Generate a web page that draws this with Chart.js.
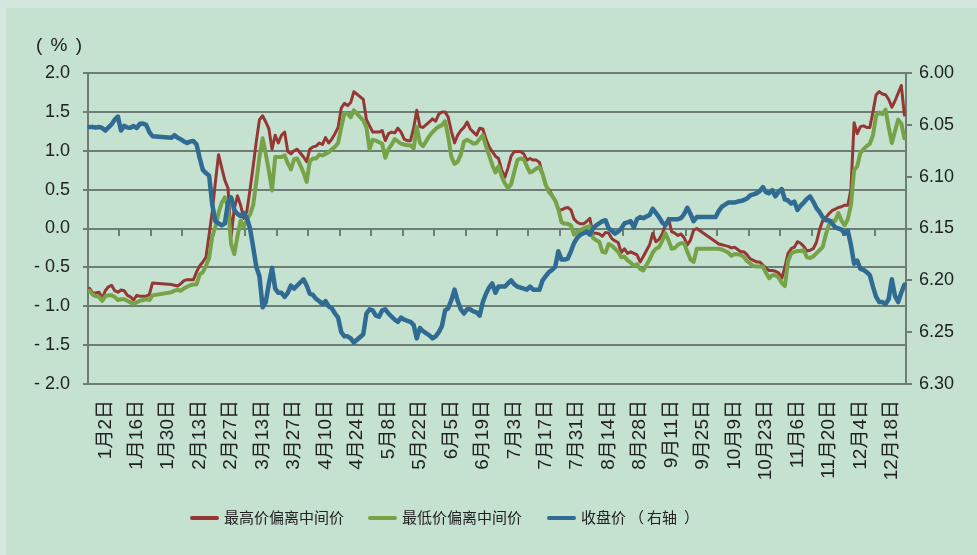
<!DOCTYPE html>
<html>
<head>
<meta charset="utf-8">
<script src="https://cdn.jsdelivr.net/npm/chart.js@4.4.1/dist/chart.umd.min.js"></script>
<style>
html, body { margin: 0; padding: 0; background: #d4e8df; }
#wrap { position: relative; width: 977px; height: 555px; overflow: hidden; }
#bg { position: absolute; left: 6px; top: 8px; right: 0; bottom: 0; background: #c5e1cf; }
#c { position: absolute; left: 0; top: 0; }
#unit { position: absolute; left: 36px; top: 34px; font: 19px "Liberation Sans"; letter-spacing: 1.5px; color: #222; white-space: pre; }
.lg { position: absolute; top: 506px; height: 24px; line-height: 24px; font: 15px "Noto Sans CJK SC"; color: #222; white-space: nowrap; }
.lg i { display: inline-block; width: 29px; height: 4px; border-radius: 2px; vertical-align: middle; margin-right: 5px; position: relative; top: -1px; }
.lg .p1 { padding-left: 3px; padding-right: 3px; }
.lg .p2 { padding-left: 7px; }
</style>
</head>
<body>
<div id="wrap">
  <div id="bg"></div>
  <canvas id="c" width="977" height="555"></canvas>
  <div id="unit">( % )</div>
  <div class="lg" style="left:190px"><i style="background:#953735"></i>最高价偏离中间价</div>
  <div class="lg" style="left:368px"><i style="background:#77a348"></i>最低价偏离中间价</div>
  <div class="lg" style="left:547px"><i style="background:#2f6b93"></i>收盘价<span class="p1">（</span>右轴<span class="p2">）</span></div>
</div>
<script>
/** 2014年の取引日（平日）*/
var categories = [];
var d = new Date(2014, 0, 2);
while (d.getFullYear() === 2014) {
    if (d.getDay() !== 0 && d.getDay() !== 6) {
        categories.push((d.getMonth() + 1) + '月' + d.getDate() + '日');
    }
    d.setDate(d.getDate() + 1);
}

// 軸ラベル（10営業日ごと）
var tickLabels = ['1月2日', '1月16日', '1月30日', '2月13日', '2月27日', '3月13日', '3月27日',
    '4月10日', '4月24日', '5月8日', '5月22日', '6月5日', '6月19日', '7月3日', '7月17日',
    '7月31日', '8月14日', '8月28日', '9月11日', '9月25日', '10月9日', '10月23日', '11月6日',
    '11月20日', '12月4日', '12月18日'];

// 最高价偏离中间价 (%)
var highDev = [
    -0.77, -0.83, -0.83, -0.82, -0.90, -0.80, -0.75, -0.73, -0.80, -0.82,
    -0.79, -0.80, -0.86, -0.88, -0.92, -0.86, -0.87, -0.87, -0.87, -0.85,
    -0.70, null, null, null, null, null, -0.72, -0.73, -0.74, -0.71,
    -0.67, -0.66, -0.66, -0.66, -0.56, -0.48, -0.43, -0.37, -0.08, 0.22,
    0.60, 0.95, 0.78, 0.62, 0.52, -0.10, 0.26, 0.42, 0.30, 0.13,
    0.22, 0.50, 0.80, 1.12, 1.40, 1.45, 1.37, 1.28, 1.02, 1.20,
    1.10, 1.20, 1.24, 0.99, 0.96, 1.00, 1.02, null, 0.92, 0.86,
    1.02, 1.05, 1.06, 1.10, 1.08, 1.17, 1.10, 1.15, 1.22, 1.30,
    1.55, 1.61, 1.58, 1.62, 1.76, null, null, 1.66, 1.40, 1.32,
    1.24, 1.24, 1.24, 1.26, 1.13, 1.22, 1.24, 1.23, 1.29, 1.24,
    1.15, 1.13, 1.13, 1.29, 1.52, 1.31, 1.30, null, 1.37, 1.41,
    1.38, 1.47, 1.50, 1.50, 1.43, 1.25, 1.10, 1.20, 1.26, 1.30,
    1.37, 1.28, 1.24, 1.20, 1.29, 1.28, 1.15, 1.05, 0.99, 0.93,
    0.90, 0.75, 0.66, 0.78, 0.93, 0.99, 0.99, 0.99, 0.96, 0.88,
    0.90, 0.88, 0.88, 0.85, 0.70, 0.55, 0.50, 0.43, 0.36, 0.24,
    0.24, 0.26, 0.27, 0.24, 0.12, 0.08, 0.06, 0.06, 0.09, 0.13,
    -0.06, -0.06, -0.07, -0.10, -0.05, -0.06, -0.13, -0.16, -0.18, -0.31,
    -0.26, -0.32, -0.30, -0.32, -0.34, -0.43, -0.36, null, -0.21, -0.06,
    -0.17, -0.14, -0.07, 0.04, 0.13, -0.04, -0.06, -0.09, -0.07, -0.12,
    -0.21, -0.15, -0.02, 0.00, null, null, null, null, null, -0.17,
    -0.20, -0.21, -0.22, -0.23, -0.25, -0.24, -0.27, -0.30, -0.30, -0.34,
    -0.39, -0.41, -0.43, -0.43, -0.47, -0.51, -0.54, -0.54, -0.55, -0.57,
    -0.64, -0.50, -0.32, -0.26, -0.24, -0.17, -0.19, -0.23, -0.29, -0.28,
    -0.26, -0.18, -0.02, 0.10, 0.14, 0.19, 0.23, 0.25, 0.27, 0.28,
    0.30, 0.30, 0.50, 1.36, 1.22, 1.31, 1.32, 1.30, 1.30, 1.50,
    1.72, 1.76, 1.73, 1.72, 1.66, 1.56, 1.64, 1.74, 1.84, 1.46
];

// 最低价偏离中间价 (%)
var lowDev = [
    -0.80, -0.85, -0.87, -0.88, -0.93, -0.87, -0.86, -0.86, -0.88, -0.92,
    -0.91, -0.91, -0.93, -0.95, -0.97, -0.95, -0.93, -0.92, -0.91, -0.92,
    -0.86, null, null, null, null, null, -0.82, -0.80, -0.79, -0.80,
    -0.77, -0.75, -0.73, -0.72, -0.72, -0.59, -0.56, -0.48, -0.38, -0.10,
    0.02, 0.20, 0.33, 0.40, 0.28, -0.20, -0.33, -0.10, 0.10, 0.02,
    0.12, 0.18, 0.30, 0.60, 0.92, 1.16, 0.96, 0.74, 0.49, 0.92,
    0.92, 0.92, 0.94, 0.84, 0.76, 0.89, 0.90, null, 0.72, 0.60,
    0.87, 0.90, 0.90, 0.95, 0.94, 0.96, 0.98, 1.02, 1.05, 1.10,
    1.30, 1.48, 1.48, 1.43, 1.52, null, null, 1.39, 1.30, 1.02,
    1.14, 1.13, 1.11, 1.09, 0.91, 1.02, 1.08, 1.15, 1.12, 1.09,
    1.08, 1.07, 1.07, 1.03, 1.31, 1.10, 1.06, null, 1.19, 1.24,
    1.28, 1.31, 1.33, 1.38, 1.18, 0.92, 0.83, 0.86, 0.95, 1.12,
    1.14, 1.12, 1.09, 1.10, 1.15, 1.20, 1.06, 0.94, 0.82, 0.72,
    0.80, 0.67, 0.58, 0.52, 0.57, 0.73, 0.88, 0.90, 0.89, 0.80,
    0.72, 0.74, 0.77, 0.79, 0.70, 0.56, 0.47, 0.42, 0.36, 0.25,
    0.08, 0.06, 0.06, 0.04, -0.08, -0.04, -0.02, 0.00, 0.02, 0.03,
    -0.12, -0.15, -0.17, -0.30, -0.31, -0.20, -0.22, -0.26, -0.30, -0.37,
    -0.36, -0.41, -0.44, -0.48, -0.46, -0.52, -0.54, null, -0.40, -0.31,
    -0.26, -0.24, -0.16, -0.06, -0.15, -0.26, -0.25, -0.21, -0.19, -0.19,
    -0.30, -0.40, -0.43, -0.26, null, null, null, null, null, -0.26,
    -0.26, -0.27, -0.29, -0.31, -0.35, -0.33, -0.33, -0.34, -0.37, -0.42,
    -0.45, -0.48, -0.49, -0.49, -0.49, -0.57, -0.64, -0.60, -0.60, -0.63,
    -0.70, -0.74, -0.42, -0.32, -0.30, -0.29, -0.29, -0.28, -0.37, -0.38,
    -0.36, -0.32, -0.28, -0.24, -0.08, 0.05, 0.10, 0.10, 0.20, 0.10,
    0.04, 0.12, 0.30, 0.75, 0.80, 0.97, 1.02, 1.06, 1.09, 1.20,
    1.45, 1.49, 1.47, 1.53, 1.30, 1.10, 1.25, 1.40, 1.35, 1.16
];

// 收盘价（右轴）
var closePrice = [
    6.052, 6.052, 6.0525, 6.052, 6.053, 6.0555, 6.0525, 6.0495, 6.045, 6.042,
    6.0555, 6.051, 6.0525, 6.0527, 6.0512, 6.053, 6.049, 6.0488, 6.050, 6.057,
    6.061, null, null, null, null, null, 6.0625, 6.060, 6.0625, 6.064,
    6.066, 6.0675, 6.066, 6.0655, 6.069, 6.082, 6.0935, 6.0965, 6.099, 6.127,
    6.143, 6.145, 6.147, 6.145, 6.125, 6.120, 6.132, 6.136, 6.138, 6.135,
    6.140, 6.150, 6.168, 6.187, 6.196, 6.226, 6.221, 6.203, 6.188, 6.208,
    6.212, 6.212, 6.216, 6.212, 6.205, 6.208, 6.205, null, 6.199, 6.205,
    6.213, 6.214, 6.218, 6.220, 6.223, 6.220, 6.225, 6.227, 6.232, 6.236,
    6.250, 6.254, 6.254, 6.256, 6.260, null, null, 6.252, 6.232, 6.228,
    6.229, 6.234, 6.235, 6.229, 6.228, 6.232, 6.235, 6.238, 6.240, 6.236,
    6.238, 6.239, 6.240, 6.243, 6.256, 6.246, 6.249, null, 6.253, 6.256,
    6.254, 6.250, 6.244, 6.229, 6.227, 6.219, 6.209, 6.220, 6.228, 6.232,
    6.228, 6.228, 6.230, 6.231, 6.234, 6.221, 6.213, 6.207, 6.203, 6.212,
    6.206, 6.206, 6.206, 6.203, 6.200, 6.204, 6.206, 6.207, 6.208, 6.209,
    6.206, 6.209, 6.209, 6.209, 6.200, 6.196, 6.192, 6.190, 6.187, 6.172,
    6.180, 6.180, 6.179, 6.172, 6.164, 6.159, 6.156, 6.1545, 6.153, 6.156,
    6.150, 6.147, 6.145, 6.143, 6.142, 6.150, 6.152, 6.155, 6.153, 6.150,
    6.145, 6.144, 6.143, 6.149, 6.141, 6.139, 6.140, null, 6.137, 6.131,
    6.135, 6.139, 6.144, 6.147, 6.142, 6.141, 6.141, 6.141, 6.140, 6.136,
    6.130, 6.136, 6.143, 6.139, null, null, null, null, null, 6.139,
    6.133, 6.129, 6.127, 6.125, 6.125, 6.125, 6.124, 6.1235, 6.1225, 6.121,
    6.118, 6.117, 6.116, 6.114, 6.110, 6.115, 6.116, 6.113, 6.119, 6.1145,
    6.112, 6.122, 6.123, 6.126, 6.124, 6.132, 6.128, 6.125, 6.1215, 6.119,
    6.124, 6.130, 6.134, 6.139, 6.142, 6.142, 6.145, 6.149, 6.150, 6.151,
    6.155, 6.152, 6.166, 6.184, 6.181, 6.189, 6.190, 6.192, 6.195, 6.206,
    6.216, 6.221, 6.221, 6.223, 6.218, 6.199, 6.215, 6.221, 6.212, 6.204
];

var gridColor = '#6d7c74';
var textColor = '#222222';
var tickFont = { family: '"Liberation Sans", "Noto Sans CJK SC", sans-serif', size: 18 };
var dateFont = { family: '"Liberation Sans", "Noto Sans CJK SC", sans-serif', size: 19 };

var ctx = document.getElementById('c').getContext('2d');
new Chart(ctx, {
    type: 'line',
    data: {
        labels: categories,
        datasets: [
            { label: '最高价偏离中间价', data: highDev, borderColor: '#953735', borderWidth: 3, yAxisID: 'y', order: 3 },
            { label: '最低价偏离中间价', data: lowDev, borderColor: '#77a348', borderWidth: 4, yAxisID: 'y', order: 2 },
            { label: '收盘价（右轴）', data: closePrice, borderColor: '#2f6b93', borderWidth: 4.5, yAxisID: 'y2', order: 1 }
        ]
    },
    options: {
        responsive: false,
        animation: false,
        spanGaps: true,
        layout: { padding: { top: 73 } },
        elements: {
            point: { radius: 0 },
            line: { tension: 0, borderJoinStyle: 'round', borderCapStyle: 'round' }
        },
        plugins: { legend: { display: false }, tooltip: { enabled: false } },
        scales: {
            x: {
                offset: true,
                grid: { display: false, drawTicks: false },
                border: { display: false },
                ticks: {
                    autoSkip: false, minRotation: 90, maxRotation: 90, padding: 16,
                    color: textColor, font: dateFont,
                    callback: function (v, i) { return i % 10 === 5 ? tickLabels[(i - 5) / 10] : ''; }
                },
                afterFit: function (s) { s.height = 555 - 384; }
            },
            // 0の位置の目盛り線
            x2: {
                type: 'category',
                position: { y: 0 },
                offset: true,
                grid: {
                    offset: true, drawOnChartArea: false, tickLength: 6, lineWidth: 2, tickWidth: 2,
                    color: function (c) { return (c.index > 0 && c.index % 10 === 0) ? gridColor : 'rgba(0,0,0,0)'; },
                    tickColor: function (c) { return (c.index > 0 && c.index % 10 === 0) ? gridColor : 'rgba(0,0,0,0)'; }
                },
                border: { display: true, color: gridColor, width: 2 },
                ticks: { display: false, autoSkip: false }
            },
            y: {
                position: 'left',
                min: -2, max: 2,
                ticks: {
                    stepSize: 0.5, padding: 13, color: textColor, font: tickFont,
                    callback: function (v) { return v < 0 ? '- ' + Math.abs(v).toFixed(1) : v.toFixed(1); }
                },
                grid: { color: gridColor, lineWidth: 2, tickLength: 5 },
                border: { color: gridColor, width: 2 },
                afterFit: function (s) { s.width = 88; }
            },
            y2: {
                position: 'right',
                reverse: true,
                min: 6.0, max: 6.3,
                ticks: {
                    stepSize: 0.05, padding: 7, color: textColor, font: tickFont,
                    callback: function (v) { return v.toFixed(2); }
                },
                grid: { drawOnChartArea: false, color: gridColor, lineWidth: 2, tickLength: 6 },
                border: { color: gridColor, width: 2 },
                afterFit: function (s) { s.width = 977 - 906; }
            }
        }
    }
});
</script>
</body>
</html>
